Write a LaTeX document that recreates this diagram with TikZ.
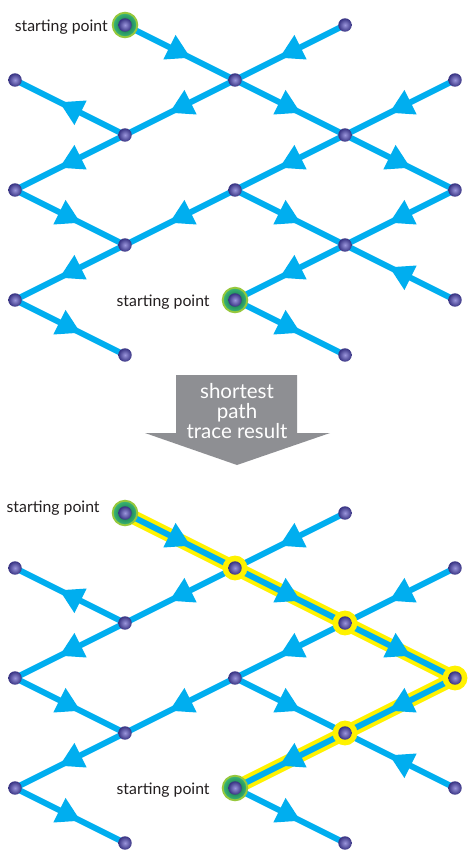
\documentclass[tikz,border=0pt]{standalone}
\usepackage{fontspec}
\setmainfont{Lato}
\usetikzlibrary{positioning,decorations.markings}
\definecolor{flowblue}{RGB}{0,174,239}
\definecolor{vertlight}{RGB}{155,150,220}
\definecolor{vertdark}{RGB}{55,50,130}
\definecolor{ringlime}{RGB}{150,200,60}
\definecolor{ringdark}{RGB}{10,100,65}
\definecolor{ringgreen}{RGB}{60,185,120}
\definecolor{hlyellow}{RGB}{255,242,0}
\definecolor{arrowgray}{RGB}{142,143,147}
\definecolor{labelgray}{RGB}{35,31,32}
\pgfdeclarelayer{hl}\pgfdeclarelayer{edges}\pgfdeclarelayer{rings}
\pgfsetlayers{hl,edges,rings,main}

\begin{document}
\begin{tikzpicture}[x=0.03cm,y=-0.03cm,
  vert/.style={circle,inner sep=0pt,minimum size=11.5pt,shading=radial,
    inner color=vertlight,outer color=vertdark},
  startring/.style={circle,inner sep=0pt,minimum size=21pt,draw=ringlime,
    line width=1.6pt,shading=radial,inner color=ringdark,outer color=ringgreen},
  pathring/.style={circle,inner sep=0pt,minimum size=21.2pt,fill=hlyellow},
  flow/.style={line width=5.1pt,draw=flowblue,postaction={decorate},
    decoration={markings,mark=at position 0.5 with
      {\fill[flowblue] (10pt,0pt) -- (-10pt,11.7pt) -- (-10pt,-11.7pt) -- cycle;}}},
  hlpath/.style={line width=12pt,draw=hlyellow,line join=round},
  lbl/.style={inner sep=0pt,font=\fontsize{13.5}{16}\selectfont,text=labelgray}]
  \useasboundingbox (0,0) rectangle (474,864);
  % vertices: name = net, column, row
  \foreach \net/\top in {t/25,b/513}
    \foreach \c/\r in {1/0,3/0,0/1,2/1,4/1,1/2,3/2,0/3,2/3,4/3,1/4,3/4,0/5,2/5,4/5,1/6,3/6}
      \node[vert] (\net\c\r) at ({15+110*\c},{\top+55*\r}) {};
  % flow edges
  \begin{pgfonlayer}{edges}
    \foreach \net in {t,b}
      \foreach \p/\q in {10/21,30/21,21/12,21/32,41/32,12/01,12/03,32/23,32/43,
                         03/14,23/14,23/34,43/34,14/05,05/16,34/25,45/34,25/36}
        \draw[flow] (\net\p.center) -- (\net\q.center);
  \end{pgfonlayer}
  \begin{pgfonlayer}{hl}
    \fill[white] (0,0) rectangle (474,864);
    \draw[hlpath] (b10.center) -- (b21.center) -- (b32.center) -- (b43.center)
      -- (b34.center) -- (b25.center);
  \end{pgfonlayer}
  \begin{pgfonlayer}{rings}
    \foreach \v in {t10,t25,b10,b25}
      \node[startring] at (\v) {};
    \foreach \v in {b21,b32,b43,b34}
      \node[pathring] at (\v) {};
  \end{pgfonlayer}
  % labels
  \node[lbl,left=8.5pt of t10,yshift=-1.7pt] (startt1) {starting point};
  \node[lbl,left=15.5pt of t25,yshift=-1.7pt] (startt2) {starting point};
  \node[lbl,left=15.5pt of b10,yshift=4.3pt] (startb1) {starting point};
  \node[lbl,left=15.5pt of b25,yshift=-1.7pt] (startb2) {starting point};
  % result arrow
  \fill[arrowgray] (176,375) -- (297,375) -- (297,433) -- (330,433) -- (237,465)
    -- (145,433) -- (176,433) -- cycle;
  \node[align=center,text=white,font=\fontsize{17.5}{17}\selectfont] (result)
    at (237,411) {shortest\\path\\trace result};
\end{tikzpicture}
\end{document}
